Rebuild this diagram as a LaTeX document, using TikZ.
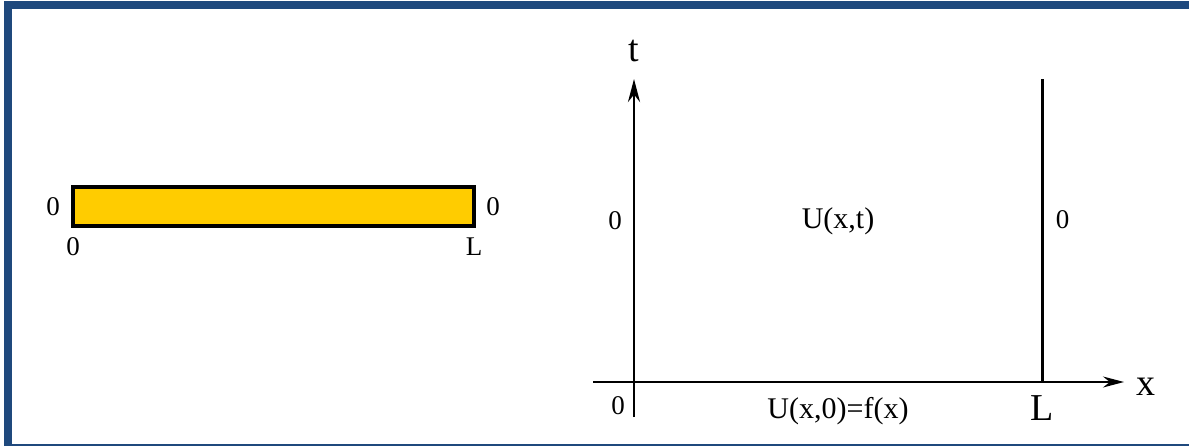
\documentclass[tikz,border=0pt]{standalone}
\usepackage{fontspec}
\setmainfont{Liberation Serif}
\usetikzlibrary{arrows.meta}
\definecolor{frameblue}{RGB}{31,73,125}
\definecolor{baryellow}{RGB}{255,204,0}
\begin{document}
\begin{tikzpicture}[x=0.5pt,y=-0.5pt,
  lab/.style={anchor=base,inner sep=0pt,font=\fontsize{13.5}{16}\selectfont},
  ulab/.style={anchor=base,inner sep=0pt,font=\fontsize{15}{18}\selectfont},
  biglab/.style={anchor=base,inner sep=0pt,font=\fontsize{19}{22}\selectfont},
  thin/.style={line width=0.7pt},
  thick/.style={line width=1.4pt}]
\useasboundingbox (0,0) rectangle (1189,446);
% frame
\fill[frameblue] (4,1) rectangle (1189,9);
\fill[frameblue] (4,1) rectangle (12,446);
\fill[frameblue] (4,444) rectangle (1189,446);
% bar
\draw[line width=2pt,fill=baryellow] (73,186.5) rectangle (474,226);
\node[lab] (bl0) at (53,215) {0};
\node[lab] (br0) at (493,215) {0};
\node[lab] (b0) at (73,255) {0};
\node[lab] (bL) at (474,255) {L};
% axes
\coordinate (O) at (634,382);
\coordinate (tlow) at (634,417);
\coordinate (ttop) at (634,79);
\coordinate (xleft) at (593,382);
\coordinate (xtip) at (1124,382);
\coordinate (Lb) at (1042.5,382);
\coordinate (Lt) at (1042.5,79);
\draw[thin] (tlow) -- (O);
\draw[thin] (xleft) -- (O);
\draw[thick,-{Stealth[length=11.5pt,width=6pt]}] (O) -- (ttop);
\draw[thick] (O) -- (Lb);
\draw[thin,-{Stealth[length=10.5pt,width=5.5pt]}] (Lb) -- (xtip);
\draw[thick] (Lb) -- (Lt);
% labels
\node[biglab] (tl) at (634,61.5) {t};
\node[lab] (l0) at (615,229) {0};
\node[ulab] (u) at (838,228) {U(x,t)};
\node[lab] (r0) at (1062.5,228) {0};
\node[lab] (o0) at (618,414) {0};
\node[ulab] (u0) at (838,418) {U(x,0)=f(x)};
\node[biglab] (LL) at (1042.5,420) {L};
\node[biglab] (xl) at (1146,395) {x};
\end{tikzpicture}
\end{document}
